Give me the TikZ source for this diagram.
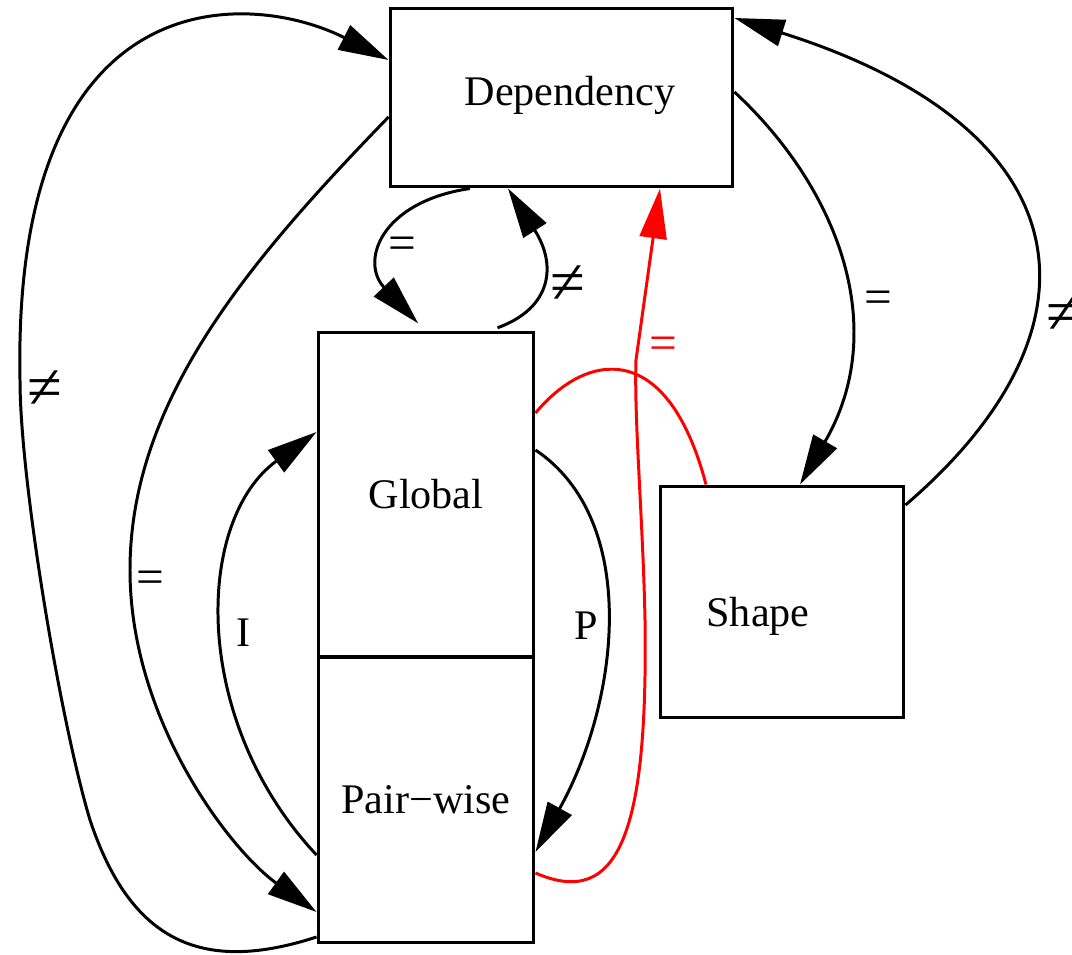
\documentclass[tikz,border=0pt]{standalone}
\usepackage{fontspec}
\setmainfont{Liberation Serif}
\usetikzlibrary{arrows.meta}

\begin{document}
\begin{tikzpicture}[x=0.02cm, y=-0.02cm, >={Triangle[length=1cm, width=0.54cm]},
    line width=1.7pt,
    box/.style={draw, line width=1.7pt, inner sep=0pt, font=\fontsize{24}{28}\selectfont},
    lab/.style={inner sep=0pt, font=\fontsize{24}{28}\selectfont},
    eq/.style={inner sep=0pt, font=\fontsize{28}{30}\selectfont},
    neq/.style={inner sep=0pt, font=\fontsize{36}{40}\selectfont}]
    \useasboundingbox (0,0) rectangle (1072,955);

    % 1. Knoten
    \node[box, minimum width=6.86cm, minimum height=3.58cm] (dep) at (561.5,97.5) {};
    \node[lab] (deptext) at (570,95) {Dependency};
    \node[box, minimum width=4.32cm, minimum height=6.5cm] (glob) at (426,494.5) {Global};
    \node[box, minimum width=4.32cm, minimum height=5.72cm] (pair) at (426,800) {Pair−wise};
    \node[box, minimum width=4.88cm, minimum height=4.64cm] (shape) at (782,602) {};
    \node[lab] (shapetext) at (758,616) {Shape};

    % 2. Dependency <-> Global
    \draw[->, shorten >=0.2cm] (470,0 |- dep.south) .. controls (380,202) and (360,262) .. (425,0 |- glob.north);
    \draw[->, shorten <=0.16cm] (490,0 |- glob.north) .. controls (552,308) and (557,265) .. (508,0 |- dep.south);
    \node[eq] (l1) at (402,248) {=};
    \node[neq] (l2) at (568,285) {≠};

    % 3. Dependency <-> Shape
    \draw[->] (dep.east |- 0,92) .. controls (840,190) and (890,330) .. (800,0 |- shape.north);
    \draw[->] (shape.east |- 0,505) .. controls (1110,330) and (1090,130) .. (dep.east |- 0,18);
    \node[eq] (l3) at (878,302) {=};
    \node[neq] (l4) at (1064,315) {≠};

    % 4. Dependency <-> Pair-wise
    \draw[->] (dep.west |- 0,117) .. controls (250,260) and (130,400) .. (130,570)
        .. controls (130,720) and (230,850) .. (pair.west |- 0,912);
    \draw[->] (pair.west |- 0,937) .. controls (200,975) and (130,940) .. (90,820)
        .. controls (60,720) and (20,480) .. (20,380)
        .. controls (12,-25) and (250,-10) .. (dep.west |- 0,60);
    \node[eq] (l5) at (150,582) {=};
    \node[neq] (l6) at (45,390) {≠};

    % 5. Global <-> Pair-wise
    \draw[->] (pair.west |- 0,855) .. controls (190,720) and (195,520) .. (glob.west |- 0,432);
    \draw[->] (glob.east |- 0,450) .. controls (640,520) and (620,700) .. (pair.east |- 0,852);
    \node[lab] (l7) at (244,633) {I};
    \node[lab] (l8) at (586,626) {P};

    % 6. rote Kanten
    \draw[red, ->] (pair.east |- 0,873) .. controls (620,910) and (648,830) .. (645,620)
        .. controls (643,520) and (634,420) .. (636,360) -- (660,0 |- dep.south);
    \draw[red] (glob.east |- 0,413) .. controls (588,350) and (668,340) .. (706,0 |- shape.north);
    \node[eq, red] (l9) at (663,348) {=};

\end{tikzpicture}
\end{document}
